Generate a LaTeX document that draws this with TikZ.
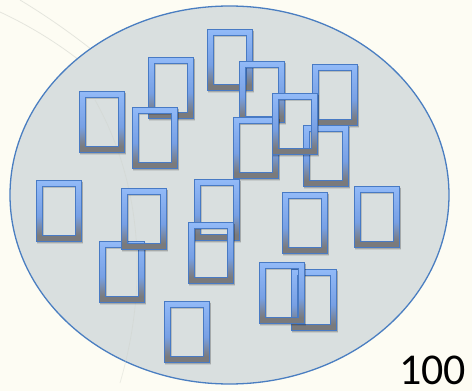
\documentclass[tikz,border=0pt]{standalone}
\usepackage{fontspec}
\usetikzlibrary{shapes.geometric}
\newfontfamily\calib{Carlito}
\definecolor{bgcream}{RGB}{253,252,243}
\definecolor{ellfill}{RGB}{217,223,223}
\definecolor{ellline}{RGB}{74,126,193}
\definecolor{frline}{RGB}{72,122,196}
\definecolor{frtop}{RGB}{146,186,248}
\definecolor{frmid}{RGB}{120,160,228}
\definecolor{frbot}{RGB}{122,122,124}
\definecolor{faint}{RGB}{205,208,200}
\pgfdeclareverticalshading{frshade}{100bp}{color(0bp)=(frbot); color(25bp)=(frbot); color(30bp)=(frbot); color(46bp)=(frmid); color(75bp)=(frtop); color(100bp)=(frtop)}
\tikzset{
  frameshadow/.style={fill=black,opacity=0.24,even odd rule},
  frameshade/.style={even odd rule,shading=frshade},
  frameline/.style={draw=frline,line width=0.9pt},
  bgarc/.style={draw=faint,line width=0.8pt,opacity=0.5},
  bigell/.style={ellipse,draw=ellline,line width=1.3pt,fill=ellfill,inner sep=0pt,
    minimum width=439pt,minimum height=378pt}
}
\newcommand\pframe[2]{%
  \begin{scope}[shift={(#1,#2)}]
    \fill[frameshadow] (1.2,1.8) rectangle (46.8,63.4) (7.6,7.6) rectangle (40.2,56.2);
    \shade[frameshade] (0,0) rectangle (45,61.5) (6,6) rectangle (39,55.5);
    \draw[frameline] (0,0) rectangle (45,61.5) (6,6) rectangle (39,55.5);
  \end{scope}}
\begin{document}
\begin{tikzpicture}[x=1pt,y=-1pt]
  \fill[bgcream] (0,0) rectangle (472,391);
  \useasboundingbox (0,0) rectangle (472,391);
  % faint background decoration
  \draw[bgarc] (0,12) .. controls (60,40) and (110,80) .. (150,130);
  \draw[bgarc] (20,0) .. controls (70,30) and (120,70) .. (160,110);
  % ellipse
  \node (ell) [bigell] at (229.5,195) {};
  \draw[bgarc,opacity=0.35] (95,100) .. controls (140,180) and (150,280) .. (120,383);
  % frames
  \pframe{207}{29}
  \pframe{148}{57}
  \pframe{79}{91}
  \pframe{132}{107}
  \pframe{239}{61}
  \pframe{312}{64}
  \pframe{303}{125}
  \pframe{233}{117}
  \pframe{272}{93}
  \pframe{36}{180}
  \pframe{99}{241}
  \pframe{121}{188}
  \pframe{194}{179}
  \pframe{188}{222}
  \pframe{282}{192}
  \pframe{354}{186}
  \pframe{291}{269}
  \pframe{259}{262}
  \pframe{164}{301}
  % label
  \node (n100) [anchor=base west,inner sep=0pt,font=\calib\fontsize{44}{44}\selectfont] at (399,384) {100};
\end{tikzpicture}
\end{document}
